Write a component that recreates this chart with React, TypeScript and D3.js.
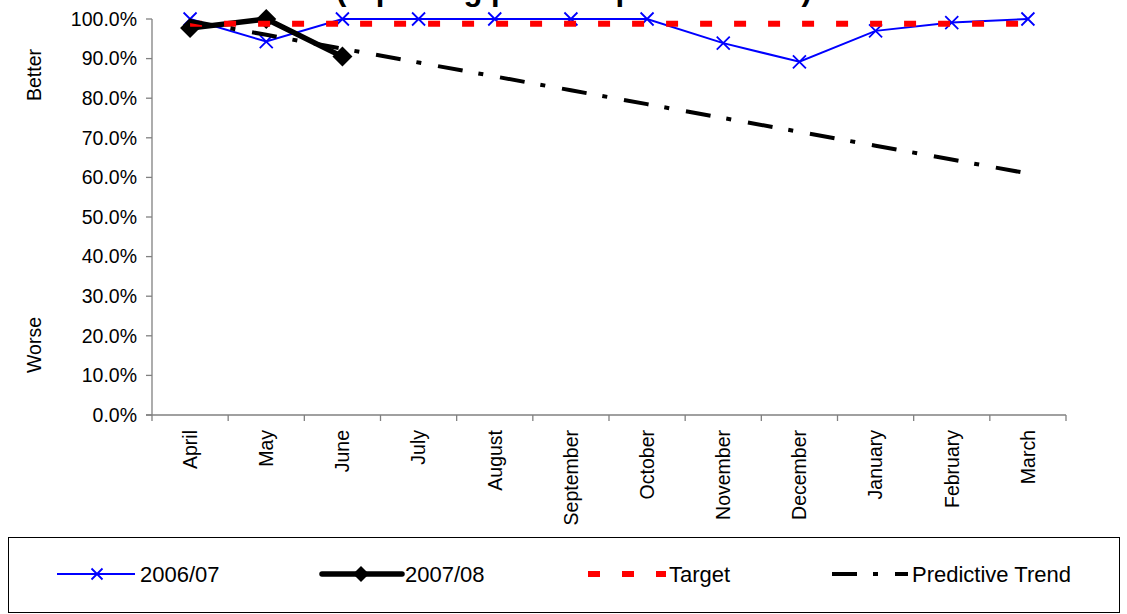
import React from 'react';
import * as d3 from 'd3';

const months = ['April', 'May', 'June', 'July', 'August', 'September', 'October', 'November', 'December', 'January', 'February', 'March'];
const series0607 = [100, 94.3, 100, 100, 100, 100, 100, 93.9, 89.2, 97.0, 99.1, 100];
const series0708 = [97.7, 100, 90.5];
const targetValues = [98.8, 98.8, 98.8, 98.8, 98.8, 98.8, 98.8, 98.8, 98.8, 98.8, 98.8, 98.8];
const trendValues = [99.5, 96.0, 92.5, 89.0, 85.5, 82.0, 78.5, 75.0, 71.5, 68.0, 64.5, 61.0];
const yTicks = [0, 10, 20, 30, 40, 50, 60, 70, 80, 90, 100];
const titleText = '(reporting period April to March)';

const W = 1127, H = 614;
const plot = { left: 152, right: 1066, top: 19, bottom: 415 };
const FONT = 'Liberation Sans, Arial, sans-serif';

export default function App() {
  const x = d3.scaleBand<string>().domain(months).range([plot.left, plot.right]).padding(0);
  const cx = (m: string) => (x(m) as number) + x.bandwidth() / 2;
  const y = d3.scaleLinear().domain([0, 100]).range([plot.bottom, plot.top]);
  const line = d3.line<[number, number]>().x(d => d[0]).y(d => d[1]);
  const pts = (vals: number[]) => vals.map((v, i) => [cx(months[i]), y(v)] as [number, number]);
  const bounds = months.map((m) => x(m) as number).concat([plot.right]);

  const xMark = (px: number, py: number, s: number, key: string) => (
    <path key={key} d={`M${px - s},${py - s}L${px + s},${py + s}M${px - s},${py + s}L${px + s},${py - s}`} stroke="#0000FF" strokeWidth={1.8} fill="none" />
  );
  const diamond = (px: number, py: number, s: number, key: string) => (
    <path key={key} d={`M${px},${py - s}L${px + s},${py}L${px},${py + s}L${px - s},${py}Z`} fill="#000" />
  );

  const legY = 574;
  return (
    <svg width={W} height={H} style={{ position: 'absolute', left: 0, top: 0, background: '#fff' }} fontFamily={FONT}>
      <text x={574} y={0} textAnchor="middle" fontSize={31} fontWeight="bold" fill="#000">{titleText}</text>
      {/* axes */}
      <line x1={plot.left} x2={plot.left} y1={plot.top} y2={plot.bottom} stroke="#808080" strokeWidth={1.3} />
      <line x1={plot.left - 6} x2={plot.right} y1={plot.bottom} y2={plot.bottom} stroke="#808080" strokeWidth={1.3} />
      {yTicks.map(t => (
        <g key={'yt' + t}>
          <line x1={plot.left - 6} x2={plot.left} y1={y(t)} y2={y(t)} stroke="#808080" strokeWidth={1.3} />
          <text x={137} y={y(t)} dy="0.35em" textAnchor="end" fontSize={19.5} fill="#000">{t.toFixed(1)}%</text>
        </g>
      ))}
      {bounds.map((b, i) => (
        <line key={'xt' + i} x1={b} x2={b} y1={plot.bottom} y2={plot.bottom + 6} stroke="#808080" strokeWidth={1.3} />
      ))}
      {months.map(m => (
        <text key={'xl' + m} transform={`translate(${cx(m)},430) rotate(-90)`} dy="0.35em" textAnchor="end" fontSize={19.5} fill="#000">{m}</text>
      ))}
      <text transform="translate(34,75) rotate(-90)" dy="0.35em" textAnchor="middle" fontSize={19.5} fill="#000">Better</text>
      <text transform="translate(34,345) rotate(-90)" dy="0.35em" textAnchor="middle" fontSize={19.5} fill="#000">Worse</text>

      {/* 2006/07 */}
      <path d={line(pts(series0607)) || ''} stroke="#0000FF" strokeWidth={2} fill="none" />
      {pts(series0607).map((p, i) => xMark(p[0], p[1], 6.5, 'm' + i))}
      {/* 2007/08 */}
      <path d={line(pts(series0708)) || ''} stroke="#000" strokeWidth={5.5} fill="none" strokeLinejoin="round" />
      {pts(series0708).map((p, i) => diamond(p[0], p[1], 10, 'd' + i))}
      {/* Target */}
      <path d={line(pts(targetValues)) || ''} stroke="#FF0000" strokeWidth={6} fill="none" strokeDasharray="12 22" />
      {/* Predictive trend */}
      <path d={line(pts(trendValues)) || ''} stroke="#000" strokeWidth={4} fill="none" strokeDasharray="25 16 5 17" />

      {/* legend */}
      <rect x={8.5} y={537.5} width={1111} height={75} fill="none" stroke="#000" strokeWidth={1} />
      <line x1={57} x2={135} y1={legY} y2={legY} stroke="#0000FF" strokeWidth={2} />
      {xMark(97, legY, 5.5, 'lm')}
      <text x={140} y={legY} dy="0.35em" fontSize={22} fill="#000">2006/07</text>
      <line x1={322} x2={402} y1={legY} y2={legY} stroke="#000" strokeWidth={5.5} strokeLinecap="round" />
      {diamond(361, legY, 8, 'ld')}
      <text x={405} y={legY} dy="0.35em" fontSize={22} fill="#000">2007/08</text>
      <line x1={588} x2={666} y1={legY} y2={legY} stroke="#FF0000" strokeWidth={6} strokeDasharray="12 22" />
      <text x={669} y={legY} dy="0.35em" fontSize={22} fill="#000">Target</text>
      <line x1={832} x2={908} y1={legY} y2={legY} stroke="#000" strokeWidth={4} strokeDasharray="25 16 5 17" />
      <text x={912} y={legY} dy="0.35em" fontSize={22} fill="#000">Predictive Trend</text>
    </svg>
  );
}
